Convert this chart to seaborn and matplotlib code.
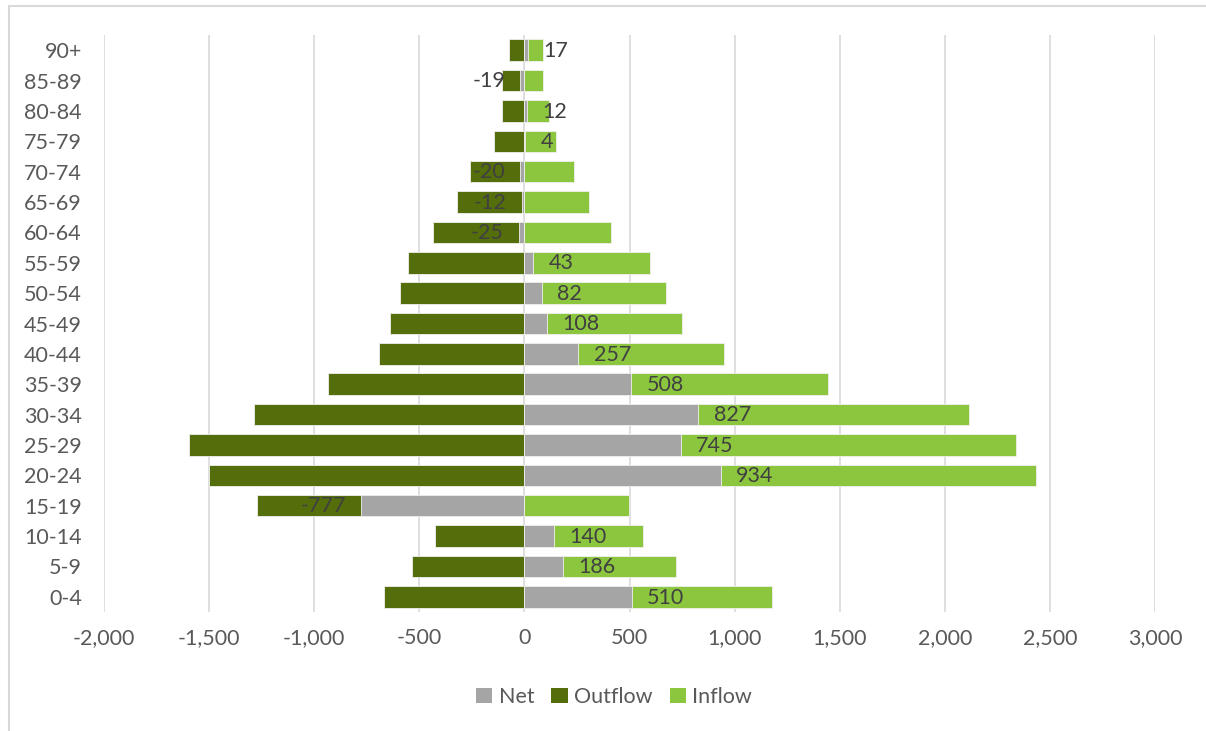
import matplotlib
matplotlib.use("Agg")
import matplotlib.pyplot as plt
from matplotlib.lines import Line2D
from matplotlib.patches import Patch
from matplotlib.ticker import FuncFormatter, MultipleLocator
import seaborn as sns
import pandas as pd

# Age groups, top of the chart first
age_groups = ["90+", "85-89", "80-84", "75-79", "70-74", "65-69", "60-64",
              "55-59", "50-54", "45-49", "40-44", "35-39", "30-34", "25-29",
              "20-24", "15-19", "10-14", "5-9", "0-4"]
inflow = [88, 87, 117, 148, 238, 308, 411, 597, 676, 748, 949, 1442, 2113,
          2339, 2434, 496, 566, 720, 1180]
outflow = [-71, -106, -105, -144, -258, -320, -436, -554, -594, -640, -692,
           -934, -1286, -1594, -1500, -1273, -426, -534, -670]
net = [17, -19, 12, 4, -20, -12, -25, 43, 82, 108, 257, 508, 827, 745, 934,
       -777, 140, 186, 510]

series_names = ["Net", "Outflow", "Inflow"]
colors = {"Net": "#A5A5A5", "Outflow": "#546E0B", "Inflow": "#8CC63F"}
text_grey = "#595959"
label_grey = "#404040"
fs = 15.5

df = pd.DataFrame({"age": age_groups, "Inflow": inflow,
                   "Outflow": outflow, "Net": net})

sns.set_theme(style="white")
plt.rcParams["font.family"] = ["Lato", "DejaVu Sans"]

fig = plt.figure(figsize=(12.06, 7.31), dpi=100)
ax = fig.add_axes([104 / 1206, 1 - 612 / 731, (1155 - 104) / 1206, (612 - 35) / 731])

bar_w = 0.71
# Overlapping bars: outflow and inflow first, net drawn on top
for name in ["Outflow", "Inflow", "Net"]:
    sns.barplot(data=df, x=name, y="age", order=age_groups, orient="h",
                color=colors[name], width=bar_w, saturation=1,
                edgecolor="#f0f0f0", linewidth=0.6, ax=ax, zorder=3)

# Net value labels at the outer end of the net bars
for i, v in enumerate(net):
    off = 11 if v >= 0 else -11
    ax.annotate(f"{v:d}", xy=(v, i), xytext=(off, -0.5), textcoords="offset points",
                ha="left" if v >= 0 else "right", va="center",
                fontsize=fs, color=label_grey, zorder=5)

ax.set_xlim(-2000, 3000)
ax.set_ylim(len(age_groups) - 0.5, -0.5)
ax.xaxis.set_major_locator(MultipleLocator(500))
ax.xaxis.set_major_formatter(FuncFormatter(lambda x, p: f"{int(x):,}"))
ax.grid(axis="x", color="#D9D9D9", linewidth=1.2, zorder=0)
ax.grid(axis="y", visible=False)
ax.set_axisbelow(True)
for s in ax.spines.values():
    s.set_visible(False)
ax.tick_params(axis="both", length=0, labelsize=fs, labelcolor=text_grey)
ax.tick_params(axis="y", pad=16)
ax.tick_params(axis="x", pad=11.5)
ax.set_xlabel("")
ax.set_ylabel("")

handles = [Patch(facecolor=colors[n], edgecolor="none", label=n) for n in series_names]
fig.legend(handles=handles, loc="center", bbox_to_anchor=(614 / 1206, 1 - 697 / 731),
           ncol=3, frameon=False, fontsize=fs, labelcolor=text_grey,
           handlelength=0.75, handleheight=0.75, handletextpad=0.3,
           columnspacing=0.8)

# Chart frame edges
frame = "#D9D9D9"
fig.add_artist(Line2D([9 / 1206, 9 / 1206], [0, 1 - 6 / 731], color=frame, lw=1.5))
fig.add_artist(Line2D([9 / 1206, 1], [1 - 6 / 731, 1 - 6 / 731], color=frame, lw=1.5))

fig.savefig("out.png", dpi=100, facecolor="white")
